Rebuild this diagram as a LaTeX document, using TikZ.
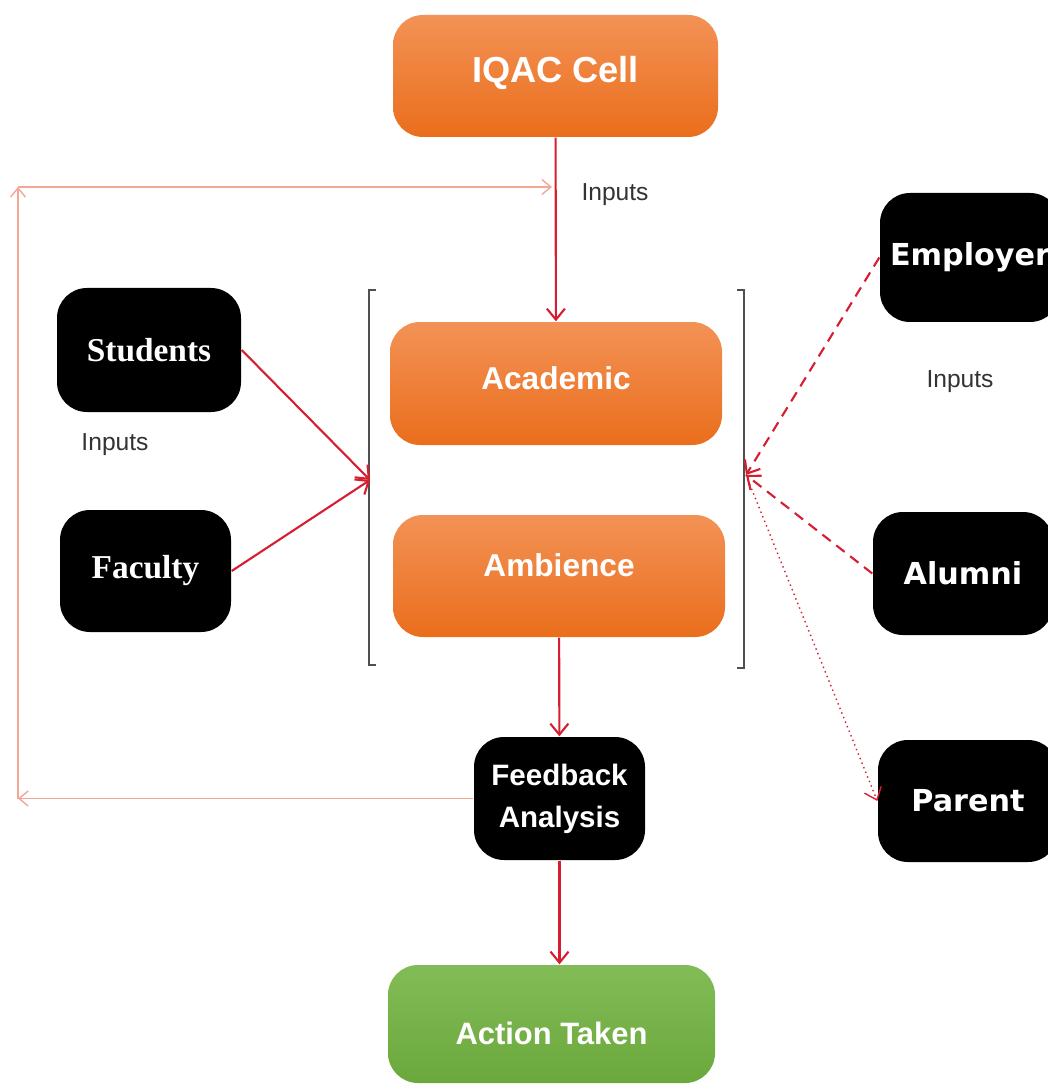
\documentclass[tikz,border=0pt]{standalone}
\usepackage{fontspec}
\setmainfont{Liberation Sans}
\newfontfamily\serfont{Liberation Serif}
\newfontfamily\widefont{DejaVu Sans}
\usetikzlibrary{arrows,arrows.meta}
\definecolor{orlite}{RGB}{243,146,86}
\definecolor{ordark}{RGB}{234,110,28}
\definecolor{grlite}{RGB}{130,188,86}
\definecolor{grdark}{RGB}{106,168,60}
\definecolor{arred}{RGB}{214,30,48}
\definecolor{salmon}{RGB}{242,168,148}
\definecolor{brgray}{RGB}{80,80,80}

\begin{document}
\begin{tikzpicture}[>={Straight Barb[length=1.1mm,width=1.8mm]}]
\tikzstyle{ob} = [top color=orlite,bottom color=ordark,rounded corners=3mm,text=white,inner sep=0pt,font=\bfseries\fontsize{9}{11}\selectfont]
\tikzstyle{gb} = [top color=grlite,bottom color=grdark,rounded corners=3mm,text=white,inner sep=0pt,font=\bfseries\fontsize{8.8}{11}\selectfont]
\tikzstyle{kb} = [fill=black,rounded corners=3mm,text=white,inner sep=0pt,minimum height=1.23cm]
\tikzstyle{sb} = [kb,minimum width=1.8cm,font=\serfont\bfseries\fontsize{9.5}{11}\selectfont]
\tikzstyle{wb} = [kb,minimum width=1.8cm,font=\widefont\bfseries\fontsize{8.6}{10}\selectfont]
\tikzstyle{inp} = [inner sep=0pt,text=black!80,font=\fontsize{7}{9}\selectfont]
\tikzstyle{rl} = [arred,semithick]
\tikzstyle{rd} = [arred,semithick,densely dashed]
\tikzstyle{rp} = [arred,thin,densely dotted]
\tikzstyle{fl} = [salmon,thin,>={Straight Barb[length=0.9mm,width=1.5mm]}]
\tikzstyle{brk} = [brgray,semithick]
\useasboundingbox (0,0) rectangle (10.47,-10.86);
% centre column
\node[ob,minimum width=3.25cm,minimum height=1.22cm,text depth=0.13cm,font=\bfseries\fontsize{10.3}{12}\selectfont] (iqac) at (5.555,-0.76) {IQAC Cell};
\node[ob,minimum width=3.32cm,minimum height=1.23cm,text depth=0.1cm] (acad) at (5.56,-3.835) {Academic};
\node[ob,minimum width=3.32cm,minimum height=1.22cm,text depth=0.22cm] (amb) at (5.59,-5.76) {Ambience};
\node[kb,minimum width=1.71cm,align=center,font=\bfseries\fontsize{8.4}{12}\selectfont] (fa) at (5.595,-7.985) {Feedback\\Analysis};
\node[gb,minimum width=3.27cm,minimum height=1.18cm,text height=0.42cm] (act) at (5.515,-10.24) {Action Taken};
% left side
\node[sb,minimum width=1.84cm,minimum height=1.24cm] (stu) at (1.49,-3.50) {Students};
\node[sb,minimum width=1.71cm,minimum height=1.22cm] (fac) at (1.455,-5.71) {Faculty};
% right side
\node[wb,minimum height=1.29cm] (emp) at (9.70,-2.575) {Employer};
\node[wb] (alu) at (9.63,-5.735) {Alumni};
\node[wb,minimum height=1.22cm] (par) at (9.68,-8.01) {Parent};
% labels
\node[inp] (in1) at (6.15,-1.95) {Inputs};
\node[inp] (in2) at (1.15,-4.45) {Inputs};
\node[inp] (in3) at (9.60,-3.82) {Inputs};
% brackets
\draw[brk] (3.76,-2.90) -- (3.69,-2.90) -- (3.69,-6.65) -- (3.76,-6.65);
\draw[brk] (7.37,-2.90) -- (7.44,-2.90) -- (7.44,-6.68) -- (7.37,-6.68);
\coordinate (lb) at (3.70,-4.80);
\coordinate (rb) at (7.46,-4.75);
% connectors
\draw[rl,->] (iqac) -- (acad);
\draw[rl,->] (amb) -- (fa);
\draw[rl,->] (fa.south) -- (fa.south |- act.north);
\draw[rl,->] (stu.east) -- (lb);
\draw[rl,->] (fac.east) -- (lb);
\draw[rd,->] (emp.west) -- (rb);
\draw[rd,->] (alu.west) -- (rb);
\draw[rp,->] (rb) -- (par.west);
% feedback loop
\coordinate (lc1) at (0.18,-7.985);
\coordinate (lc2) at (0.18,-1.87);
\coordinate (lc3) at (5.52,-1.87);
\draw[fl,->] (fa.west) -- (lc1);
\draw[fl,->] (lc1) -- (lc2);
\draw[fl,->] (lc2) -- (lc3);
\end{tikzpicture}
\end{document}
